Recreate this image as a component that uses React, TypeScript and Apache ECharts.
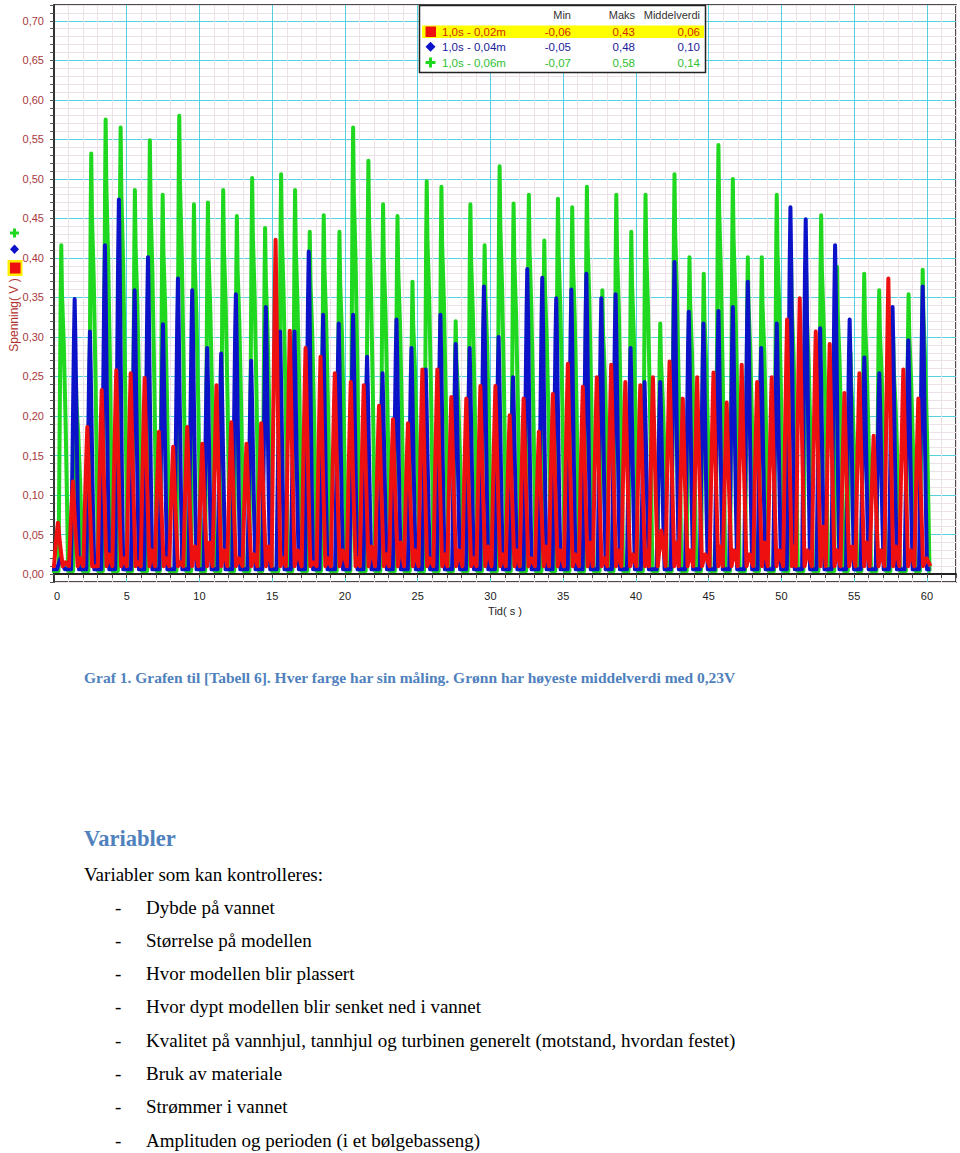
import React, { useEffect, useRef } from 'react';
import * as echarts from 'echarts';

// ---------- data ----------
const xTickLabels = ['0', '5', '10', '15', '20', '25', '30', '35', '40', '45', '50', '55', '60'];
const yTickLabels = ['0,00', '0,05', '0,10', '0,15', '0,20', '0,25', '0,30', '0,35', '0,40', '0,45', '0,50', '0,55', '0,60', '0,65', '0,70'];

const xName = 'Tid( s )';
const yName = 'Spenning( V )';

const legendHeaders = ['Min', 'Maks', 'Middelverdi'];
const legendNames = ['1,0s - 0,02m', '1,0s - 0,04m', '1,0s - 0,06m'];
const legendMin = ['-0,06', '-0,05', '-0,07'];
const legendMax = ['0,43', '0,48', '0,58'];
const legendMean = ['0,06', '0,10', '0,14'];

// green: 1,0s - 0,06m
const greenPeakT = [0.5, 1.5, 2.56, 3.55, 4.58, 5.56, 6.59, 7.47, 8.61, 9.62, 10.58, 11.63, 12.57, 13.62, 14.51, 15.61, 16.57, 17.58, 18.54, 19.62,
  20.56, 21.61, 22.62, 23.61, 24.64, 25.62, 26.63, 27.61, 28.62, 29.6, 30.63, 31.59, 32.64, 33.7, 34.64, 35.62, 36.63, 37.69, 38.65, 39.68,
  40.66, 41.67, 42.65, 43.68, 44.66, 45.67, 46.66, 47.69, 48.65, 49.68, 50.66, 51.7, 52.73, 53.82, 54.75, 55.69, 56.72, 57.68, 58.74, 59.71];
const greenPeakV = [0.416, 0.25, 0.532, 0.575, 0.565, 0.486, 0.549, 0.48, 0.58, 0.468, 0.47, 0.486, 0.453, 0.501, 0.438, 0.506, 0.486, 0.433, 0.454, 0.433,
  0.565, 0.523, 0.468, 0.453, 0.37, 0.497, 0.49, 0.32, 0.468, 0.416, 0.516, 0.469, 0.48, 0.422, 0.475, 0.464, 0.49, 0.359, 0.48, 0.433,
  0.48, 0.317, 0.506, 0.401, 0.38, 0.543, 0.5, 0.401, 0.401, 0.48, 0.4, 0.38, 0.454, 0.389, 0.28, 0.38, 0.359, 0.3, 0.354, 0.385];

// blue: 1,0s - 0,04m
const bluePeakT = [0.45, 1.42, 2.47, 3.5, 4.46, 5.54, 6.46, 7.49, 8.52, 9.5, 10.53, 11.49, 12.5, 13.55, 14.56, 15.54, 16.53, 17.51, 18.5, 19.57,
  20.56, 21.52, 22.58, 23.54, 24.57, 25.55, 26.56, 27.61, 28.57, 29.55, 30.56, 31.55, 32.53, 33.56, 34.52, 35.56, 36.59, 37.62, 38.6, 39.63,
  40.59, 41.67, 42.65, 43.63, 44.64, 45.67, 46.66, 47.69, 48.61, 49.68, 50.62, 51.67, 52.66, 53.69, 54.69, 55.7, 56.73, 57.64, 58.72, 59.71];
const bluePeakV = [0.02, 0.348, 0.307, 0.416, 0.474, 0.359, 0.401, 0.316, 0.374, 0.359, 0.286, 0.279, 0.354, 0.27, 0.338, 0.307, 0.307, 0.408, 0.328, 0.317,
  0.328, 0.275, 0.254, 0.322, 0.286, 0.259, 0.328, 0.291, 0.286, 0.364, 0.3, 0.249, 0.386, 0.375, 0.349, 0.36, 0.38, 0.349, 0.354, 0.286,
  0.243, 0.243, 0.395, 0.332, 0.317, 0.333, 0.338, 0.37, 0.286, 0.317, 0.464, 0.449, 0.311, 0.416, 0.322, 0.274, 0.254, 0.338, 0.296, 0.364];

// red: 1,0s - 0,02m
const redPeakT = [0.27, 1.3, 2.29, 3.28, 4.28, 5.27, 6.23, 7.21, 8.19, 9.16, 10.19, 11.17, 12.18, 13.23, 14.24, 15.23, 16.21, 17.29, 18.32, 19.3,
  20.4, 21.29, 22.34, 23.3, 24.33, 25.32, 26.35, 27.31, 28.34, 29.31, 30.34, 31.32, 32.28, 33.33, 34.29, 35.32, 36.35, 37.31, 38.3, 39.27,
  40.3, 41.17, 42.31, 43.22, 44.21, 45.33, 46.24, 47.27, 48.33, 49.33, 50.39, 51.26, 52.36, 53.32, 54.33, 55.36, 56.34, 57.35, 58.38, 59.41];
const redPeakV = [0.065, 0.117, 0.186, 0.233, 0.258, 0.254, 0.248, 0.18, 0.161, 0.186, 0.165, 0.239, 0.192, 0.165, 0.191, 0.423, 0.308, 0.286, 0.275, 0.254,
  0.243, 0.239, 0.213, 0.196, 0.191, 0.259, 0.259, 0.224, 0.222, 0.238, 0.238, 0.201, 0.222, 0.18, 0.228, 0.266, 0.237, 0.249, 0.265, 0.243,
  0.239, 0.249, 0.269, 0.222, 0.249, 0.255, 0.217, 0.265, 0.243, 0.249, 0.322, 0.349, 0.307, 0.291, 0.229, 0.254, 0.175, 0.374, 0.259, 0.222];
// small red bumps between the main pulses
const redGapV = [0.015, 0.02, 0.01, 0.025, 0.02, 0.015, 0.03, 0.02, 0.015, 0.035,
  0.04, 0.03, 0.02, 0.025, 0.035, 0.02, 0.03, 0.015, 0.02, 0.03,
  0.02, 0.035, 0.025, 0.04, 0.03, 0.02, 0.025, 0.03, 0.02, 0.035,
  0.025, 0.03, 0.02, 0.035, 0.03, 0.025, 0.04, 0.02, 0.03, 0.025,
  0.03, 0.055, 0.04, 0.03, 0.025, 0.035, 0.03, 0.025, 0.04, 0.03,
  0.035, 0.03, 0.06, 0.03, 0.035, 0.04, 0.03, 0.035, 0.03, 0.02];

const captionText = 'Graf 1. Grafen til [Tabell 6]. Hver farge har sin måling. Grønn har høyeste middelverdi med 0,23V';
const headingText = 'Variabler';
const introText = 'Variabler som kan kontrolleres:';
const listItems = [
  'Dybde på vannet',
  'Størrelse på modellen',
  'Hvor modellen blir plassert',
  'Hvor dypt modellen blir senket ned i vannet',
  'Kvalitet på vannhjul, tannhjul og turbinen generelt (motstand, hvordan festet)',
  'Bruk av materiale',
  'Strømmer i vannet',
  'Amplituden og perioden (i et bølgebasseng)',
];

// ---------- styling ----------
const GREEN = '#1fd81f';
const BLUE = '#0c12c8';
const RED = '#ee1010';
const MAJOR = '#55d0de';
const MINOR = '#ece1e8';
// pulse outlines (time offset in s, fraction of peak height)
const BLUE_SHAPE: number[][] = [[-0.25, 0], [-0.13, 0.5], [-0.05, 0.85], [0, 1], [0.05, 0.85], [0.13, 0.55], [0.21, 0.25], [0.3, 0]];
const GREEN_SHAPE: number[][] = [[-0.19, 0], [-0.1, 0.5], [-0.04, 0.85], [0, 1], [0.05, 0.85], [0.17, 0.7], [0.3, 0.45], [0.4, 0.2], [0.47, 0]];
const RED_SHAPE: number[][] = [[-0.27, 0], [-0.15, 0.5], [-0.05, 0.85], [0, 1], [0.06, 0.8], [0.15, 0.5], [0.25, 0.22], [0.33, 0]];

function buildTrace(ts: number[], vs: number[], base: number, shape: number[][], gaps?: number[]) {
  const pts: number[][] = [[-0.2, base]];
  const tEnd = 60.25;
  ts.forEach((t, i) => {
    const v = vs[i];
    shape.forEach(([dt, f]) => pts.push([t + dt, base + (v - base) * f]));
    if (gaps) {
      const next = i + 1 < ts.length ? ts[i + 1] : tEnd + 0.3;
      pts.push([(t + next) / 2, gaps[i]]);
    }
  });
  pts.push([tEnd, base]);
  return pts;
}

const FONT = '"Liberation Sans", Arial, sans-serif';
const SERIF = '"Liberation Serif", "Times New Roman", serif';

export default function App() {
  const ref = useRef<HTMLDivElement>(null);
  useEffect(() => {
    if (!ref.current) return;
    const chart = echarts.init(ref.current, null, { renderer: 'svg' });

    const graphics: any[] = [];
    // legend box
    graphics.push({ type: 'rect', shape: { x: 419.5, y: 5.5, width: 286, height: 67 }, style: { fill: '#fff', stroke: '#222', lineWidth: 1.5 }, z: 100 });
    graphics.push({ type: 'rect', shape: { x: 422, y: 25.5, width: 282, height: 12.5 }, style: { fill: '#ffff00' }, z: 101 });
    const headerX = [571, 635, 700];
    legendHeaders.forEach((h, i) => graphics.push({ type: 'text', x: headerX[i], y: 15, z: 102, style: { text: h, font: `11px ${FONT}`, fill: '#333', align: 'right', verticalAlign: 'middle' } }));
    const rowY = [31.5, 46.7, 62.5];
    const rowColor = ['#d02a00', '#1a1a9c', '#30c030'];
    legendNames.forEach((n, i) => {
      const y = rowY[i];
      const st = { font: `11.5px ${FONT}`, fill: rowColor[i], verticalAlign: 'middle' };
      graphics.push({ type: 'text', x: 442, y, z: 102, style: { ...st, text: n, align: 'left' } });
      graphics.push({ type: 'text', x: 571, y, z: 102, style: { ...st, text: legendMin[i], align: 'right' } });
      graphics.push({ type: 'text', x: 635, y, z: 102, style: { ...st, text: legendMax[i], align: 'right' } });
      graphics.push({ type: 'text', x: 700, y, z: 102, style: { ...st, text: legendMean[i], align: 'right' } });
    });
    // legend markers
    graphics.push({ type: 'rect', shape: { x: 425.5, y: 26.5, width: 10.5, height: 10.5 }, style: { fill: RED }, z: 102 });
    graphics.push({ type: 'polygon', shape: { points: [[430.5, 41.7], [435.5, 46.7], [430.5, 51.7], [425.5, 46.7]] }, style: { fill: BLUE }, z: 102 });
    graphics.push({ type: 'rect', shape: { x: 425.5, y: 61, width: 10, height: 3 }, style: { fill: GREEN }, z: 102 });
    graphics.push({ type: 'rect', shape: { x: 429, y: 57.5, width: 3, height: 10 }, style: { fill: GREEN }, z: 102 });
    // markers left of y axis
    graphics.push({ type: 'rect', shape: { x: 10, y: 231.5, width: 9, height: 3 }, style: { fill: GREEN }, z: 102 });
    graphics.push({ type: 'rect', shape: { x: 13, y: 228.5, width: 3, height: 9 }, style: { fill: GREEN }, z: 102 });
    graphics.push({ type: 'polygon', shape: { points: [[14.5, 244.5], [19, 249.3], [14.5, 254], [10, 249.3]] }, style: { fill: BLUE }, z: 102 });
    graphics.push({ type: 'rect', shape: { x: 7.5, y: 260, width: 15, height: 16 }, style: { fill: '#ffee00' }, z: 102 });
    graphics.push({ type: 'rect', shape: { x: 10, y: 262.5, width: 10.5, height: 11 }, style: { fill: RED }, z: 103 });
    // y axis name
    graphics.push({ type: 'text', x: 14, y: 315, rotation: Math.PI / 2, style: { text: yName, font: `12px ${FONT}`, fill: '#b03030', align: 'center', verticalAlign: 'middle' } });

    // document text
    graphics.push({ type: 'text', x: 84, y: 677, style: { text: captionText, font: `bold 15.5px ${SERIF}`, fill: '#4f81bd', align: 'left', verticalAlign: 'middle' } });
    graphics.push({ type: 'text', x: 84, y: 838, style: { text: headingText, font: `bold 22.5px ${SERIF}`, fill: '#4f81bd', align: 'left', verticalAlign: 'middle' } });
    graphics.push({ type: 'text', x: 84, y: 874, style: { text: introText, font: `19px ${SERIF}`, fill: '#000', align: 'left', verticalAlign: 'middle' } });
    listItems.forEach((t, i) => {
      const y = 907 + i * 33.3;
      graphics.push({ type: 'text', x: 115, y, style: { text: '-', font: `19px ${SERIF}`, fill: '#000', align: 'left', verticalAlign: 'middle' } });
      graphics.push({ type: 'text', x: 146, y, style: { text: t, font: `19px ${SERIF}`, fill: '#000', align: 'left', verticalAlign: 'middle' } });
    });

    const lineSeries = (name: string, data: number[][], color: string) => ({
      name, type: 'line', data, showSymbol: false, symbol: 'none', silent: true,
      lineStyle: { color, width: 4, join: 'round' }, itemStyle: { color }, clip: true,
    });

    chart.setOption({
      animation: false,
      backgroundColor: '#fff',
      grid: { left: 54, top: 5, width: 902, height: 577, containLabel: false, outerBoundsMode: 'none', show: true, borderColor: '#111', borderWidth: 1.5, backgroundColor: 'transparent' },
      xAxis: {
        type: 'value', min: 0, max: 62, interval: 1,
        name: xName, nameLocation: 'middle', nameGap: 21,
        nameTextStyle: { color: '#222', fontSize: 11, fontFamily: FONT },
        axisLine: { show: true, lineStyle: { color: '#222', width: 2 } },
        axisTick: { show: true, length: 4, lineStyle: { color: '#444' } },
        axisLabel: {
          color: '#222', fontSize: 11, fontFamily: FONT, margin: 8, alignMinLabel: 'left', showMinLabel: true,
          formatter: (v: number) => (Math.round(v) % 5 === 0 && xTickLabels[Math.round(v) / 5] !== undefined ? xTickLabels[Math.round(v) / 5] : ''),
        },
        splitLine: { show: true, lineStyle: { color: [MAJOR, MINOR, MINOR, MINOR, MINOR], width: 1 } },
      },
      yAxis: {
        type: 'value', min: -0.01, max: 0.72, interval: 0.01,
        axisLine: { show: true, lineStyle: { color: '#333', width: 2 } },
        axisTick: { show: true, length: 4, lineStyle: { color: '#555' } },
        axisLabel: {
          color: '#a8383c', fontSize: 11, fontFamily: FONT, margin: 10,
          formatter: (v: number) => {
            const k = Math.round(v * 100);
            return k >= 0 && k % 5 === 0 && yTickLabels[k / 5] !== undefined ? yTickLabels[k / 5] : '';
          },
        },
        splitLine: { show: true, lineStyle: { color: [MINOR, MAJOR, MINOR, MINOR, MINOR], width: 1 } },
      },
      series: [
        lineSeries(legendNames[2], buildTrace(greenPeakT, greenPeakV, 0.004, GREEN_SHAPE), GREEN),
        lineSeries(legendNames[1], buildTrace(bluePeakT, bluePeakV, 0.006, BLUE_SHAPE), BLUE),
        lineSeries(legendNames[0], buildTrace(redPeakT, redPeakV, 0.01, RED_SHAPE, redGapV), RED),
      ],
      graphic: graphics,
    });
    return () => chart.dispose();
  }, []);
  return <div ref={ref} style={{ position: 'absolute', left: 0, top: 0, width: 960, height: 1153 }} />;
}
